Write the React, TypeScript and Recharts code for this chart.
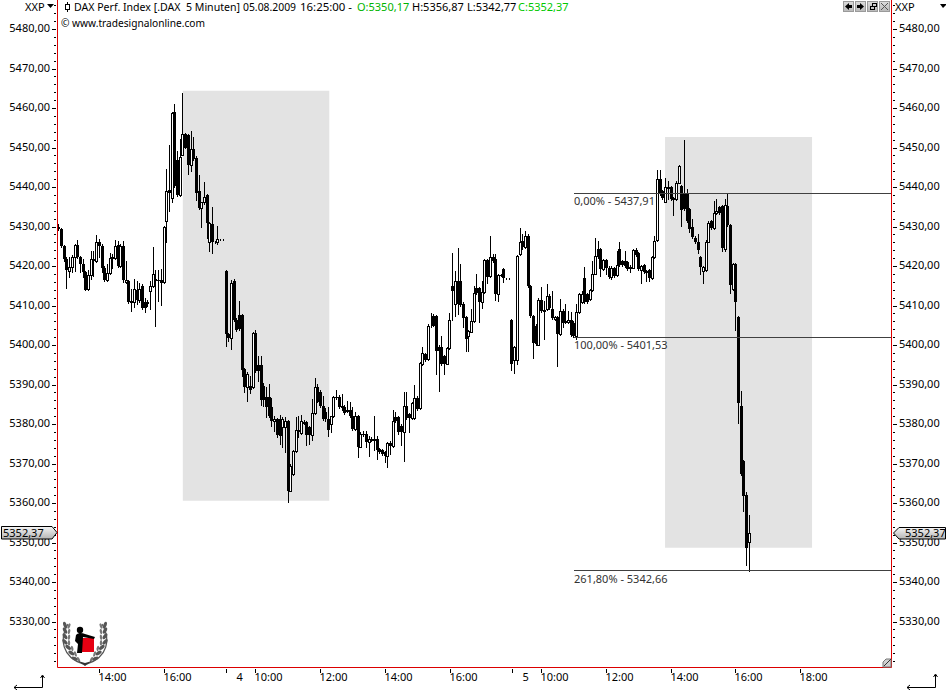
import React from "react";
import { ComposedChart, Bar, XAxis, YAxis, ReferenceArea, ReferenceLine } from "recharts";

type Ohlc = [number, number, number, number];

// open, high, low, close of each 5-minute bar
const day3Bars: Ohlc[] = [
[5429.9,5430.6,5429.2,5429.3],[5429.3,5429.6,5424.9,5425.1],[5425.1,5425.4,5421.3,5421.8],[5421.8,5422.2,5414.4,5419],[5418.8,5422.2,5417.1,5419.8],
[5419.8,5422.8,5418.4,5422.4],[5422.4,5425.6,5418.8,5425.3],[5425.3,5426.6,5422,5422.2],[5422.2,5422.6,5418.4,5420.5],[5420.5,5421.8,5417.1,5418.4],
[5418.4,5418.8,5413.9,5413.9],[5414.2,5419,5414,5417.7],[5417.7,5423.9,5416.7,5421.9],[5421.9,5423.9,5417.5,5421.2],[5421.2,5427.9,5421,5426],
[5426,5426.8,5422.2,5425],[5425,5425.5,5418.4,5419.6],[5419.6,5420,5416.3,5416.4],[5416.4,5420.6,5416.2,5418.2],[5418.2,5423.2,5418,5422],
[5422,5423,5419.6,5422.2],[5422,5426.6,5421.8,5425],[5425.3,5426.4,5419.8,5420],[5420,5425.5,5419.8,5425],[5425,5426.4,5416,5416.4],
[5416,5421.3,5415.8,5416.4],[5416.2,5416.5,5410.6,5410.8],[5410.8,5414.2,5408.7,5411.2],[5410.8,5416.7,5409.7,5414.2],[5413.9,5416.3,5410.4,5411.5],
[5411.5,5415.6,5411,5414.2],[5414.9,5415.4,5409,5409.3],[5410.8,5412,5408.3,5409.3],[5410.6,5411.5,5409.8,5410.8],[5413.6,5416.3,5409.1,5414.9],
[5414.9,5424.9,5414.6,5418.1],[5416.7,5419,5404.9,5416.3],[5416.5,5419,5411.2,5416.1],[5416.5,5419.2,5410.2,5415.7],[5416,5430.2,5415.8,5429.9],
[5431.4,5444.5,5426.2,5439],[5439.3,5450.6,5434,5438.6],[5437.2,5458.9,5436.1,5458.7],[5459,5461,5440,5440.3],[5446.8,5449,5437.8,5438],
[5438,5452.1,5437.8,5447.5],[5448.1,5463.8,5448,5453.4],[5453.4,5453.8,5449.8,5450],[5453.1,5453.4,5443.4,5445.5],[5445.5,5454.2,5444.1,5449.6],
[5449.6,5452.7,5446.8,5447],[5447.3,5447.8,5436.8,5438.4],[5438.9,5443.1,5434.4,5434.6],[5434.8,5436.3,5430,5436.1],[5436.1,5441.3,5435.8,5437.6],
[5437.9,5438.2,5427.2,5430.9],[5426,5431.2,5423.9,5430.9],[5430.6,5435,5423.4,5426],[5426,5426.3,5425.8,5426],[5426,5430.2,5425.6,5426.8],
[5426.8,5426.9,5426.7,5426.8],[5426.8,5426.9,5426.7,5426.8],
];

const day4Bars: Ohlc[] = [
[5418.8,5419.1,5399.8,5402.8],[5402.8,5403,5401.1,5401.9],[5401.9,5416.5,5399,5415.7],[5416.3,5416.6,5406,5406.3],[5406.3,5406.8,5403.6,5403.9],
[5407.6,5411.2,5403.8,5404],[5407.6,5407.9,5392.2,5393.7],[5393.9,5394.3,5388.2,5389.3],[5389.4,5393.2,5385.9,5392.6],[5389.7,5392.2,5387.8,5388.6],
[5389.3,5403.2,5389,5403],[5403,5403.8,5393.2,5393.5],[5395,5397.3,5391,5393.3],[5395,5397.3,5384.9,5386.1],[5389.7,5390.5,5384.6,5386.1],
[5386.9,5389.3,5381.7,5384.2],[5386.9,5390.1,5381.7,5382.1],[5384.2,5386.7,5379.4,5380.7],[5380.7,5382.1,5378.3,5381.3],[5381.3,5381.6,5376.6,5377.2],
[5381.3,5382.4,5374.9,5377],[5379.2,5381.7,5374.1,5381.3],[5379.2,5381.7,5372.8,5380.7],[5380.7,5381,5360.2,5363.1],[5363.1,5369.8,5363,5369.5],
[5367.4,5373.4,5367.2,5373.1],[5373.1,5381.7,5372.9,5378.5],[5378.5,5382.1,5376.6,5377.9],[5377.7,5382.4,5377.5,5380.7],[5380.2,5380.9,5380,5380.5],
[5380.5,5380.8,5374.8,5377.2],[5379.2,5379.6,5374.9,5377.2],[5377.2,5386.3,5376,5382.8],[5382.8,5391.6,5382.6,5389.3],[5389.3,5390.1,5385.5,5385.7],
[5388,5388.5,5384.4,5384.6],[5384.6,5387.2,5381,5381.3],[5383,5384,5380.8,5381.3],[5381.3,5384.2,5377,5378.5],[5380,5382.1,5377.9,5382.1],
[5382.1,5387.2,5381.9,5386.9],[5386.9,5388.6,5386.4,5386.7],[5386.9,5387.4,5384,5384.2],[5384.5,5387.6,5383.6,5384],[5384.4,5384.8,5382.5,5382.7],
[5383.2,5385.9,5383,5383.5],[5383.5,5385.5,5381.9,5382.1],[5382.1,5384.2,5378.5,5378.7],[5378.7,5383,5378.5,5382.1],[5382.1,5382.4,5371.6,5374.3],
[5374.3,5377.9,5374.1,5377.6],[5377.6,5378.3,5377,5377.3],[5377.5,5378.3,5374.1,5375.4],[5375.4,5377,5372,5376.2],[5376,5376.6,5375.8,5376.2],
[5376.2,5382.1,5373.3,5375.8],[5376.2,5377,5371.2,5373.5],[5373.7,5374,5372.6,5372.8],[5373.3,5373.6,5372.2,5372.4],[5372.8,5373.1,5370.3,5371.8],
[5371.8,5375.5,5369,5375.3],[5375.3,5375.6,5372.4,5374.4],[5374.4,5383.6,5374.2,5380.8],[5381.8,5383,5380.4,5380.7],[5381.8,5382,5377.5,5378.1],
[5379.6,5380,5374.7,5378.1],[5378.1,5388,5370.6,5384.6],[5384.6,5388,5381.2,5381.4],[5382.5,5382.9,5377.9,5381.4],[5381.4,5385.6,5381.2,5385.3],
[5381.4,5389.9,5381.2,5386.7],[5386.7,5387,5383.6,5383.8],[5384,5395.8,5383.8,5395.5],[5395.2,5399.6,5395,5398],[5397.7,5398,5396,5396.2],
[5396.4,5405.2,5396.2,5404.9],[5404.7,5408.2,5404.5,5404.9],[5407.4,5407.8,5404.7,5404.9],[5407.4,5407.7,5392.6,5398.5],[5399.6,5400,5388.4,5398.4],
[5399.6,5402.3,5395,5395.3],[5397.3,5397.6,5392.7,5395.3],[5395.3,5399.6,5395.1,5399.2],[5399.2,5408,5399,5406.3],[5415,5423.3,5406.3,5413.6],
[5410.4,5418.8,5407.4,5416.3],[5416.3,5424.5,5407.8,5410.4],[5416.3,5420.6,5410,5410.2],[5410.4,5410.8,5404.6,5406.8],[5407,5407.3,5398.4,5401.5],
[5402.3,5403.8,5398.6,5403.6],[5403.4,5409.1,5403.2,5406],[5406,5415,5405.8,5413.1],[5414.4,5418,5412.9,5413.1],[5414.4,5414.8,5405.9,5410.8],
[5410.8,5416.3,5409.3,5413.3],[5413.3,5421.8,5413.1,5421.5],[5421.5,5421.8,5415.8,5417.1],[5417.5,5427.6,5417.3,5422.3],[5422.3,5423,5421.1,5421.3],
[5421.7,5423,5411.4,5412.9],[5412.9,5418,5411.2,5417.8],[5417.8,5418,5417.6,5417.7],[5419.2,5419.4,5416,5416.9],[5416.9,5417,5416.8,5416.9],
[5416.9,5417,5416.8,5416.9],
];

const day5Bars: Ohlc[] = [
[5406.4,5406.6,5393.7,5395.3],[5396.2,5399.8,5393,5399.6],[5396.2,5422.8,5395.2,5422.6],[5423,5429.6,5422.8,5426],[5426.4,5428.1,5424.4,5424.7],
[5424.7,5428.9,5424.5,5427.6],[5427.6,5428.1,5414.8,5415],[5415,5415.3,5407,5407.4],[5407.4,5407.7,5396.6,5400.4],[5404.9,5405.2,5400,5400.2],
[5400.1,5411.8,5399.9,5411.5],[5411.5,5414.8,5408.3,5408.5],[5408.5,5411.2,5401.5,5408.8],[5409.1,5415.4,5408.9,5412.5],[5412.5,5412.8,5409.1,5409.3],
[5409.1,5413.7,5406.6,5406.8],[5406.6,5407.3,5406.4,5407],[5407,5407.3,5394.6,5402.8],[5402.8,5411.6,5402.6,5408.7],[5408.7,5409,5404.5,5405.7],
[5405.9,5410.4,5405.6,5406.1],[5405.9,5408.7,5405.6,5406.3],[5406.3,5408.3,5402.4,5402.6],[5405.7,5406,5402.1,5402.3],[5402.3,5410.4,5401.5,5408.3],
[5408.3,5413.1,5408.1,5412.9],[5410.8,5413.7,5410.6,5412.9],[5416.9,5419.8,5410.6,5410.8],[5412.9,5413.2,5410.6,5410.8],[5411.6,5414.2,5411.4,5413.9],
[5413.9,5421.3,5413.7,5418.1],[5418.1,5427.2,5417.9,5422.6],[5424.3,5426.4,5422.1,5422.3],[5424.3,5424.6,5417.5,5419.2],[5419.2,5421.8,5419,5421.5],
[5421.5,5421.8,5418,5419.6],[5419.6,5420,5416.9,5417.1],[5417.1,5420,5416.7,5419.6],[5419.5,5419.8,5417.3,5417.5],[5417.8,5423.8,5417.5,5420.2],
[5424.3,5426,5420,5420.2],[5421.3,5421.6,5420,5420.2],[5421.3,5423.9,5419.8,5420],[5420.9,5421.2,5419,5419.2],[5419.5,5420.2,5418.4,5419.8],
[5419.6,5424.3,5419.4,5424],[5424,5424.5,5422.6,5422.8],[5423.2,5423.5,5419,5419.2],[5419,5420.3,5415.6,5420],[5420.2,5420.5,5418.2,5418.4],
[5418.4,5419,5416.3,5418.8],[5419,5419.3,5416.2,5416.9],[5416.9,5422.5,5416.7,5422.2],[5422.2,5427.6,5422,5426.4],[5426.6,5444.3,5426.4,5442],
[5442,5444.3,5438,5438.2],[5439,5439.3,5436.9,5437.1],[5436.3,5442.4,5436.1,5439.9],[5439.7,5441.6,5436.9,5439.9],[5439.9,5440.2,5436.7,5436.9],
[5436.9,5437.6,5433,5437.3],[5436.9,5441.4,5436.7,5441.1],[5441.1,5445.6,5440.9,5445.3],[5440.3,5440.6,5430.2,5434.1],[5438.6,5451.9,5434.2,5434.4],
[5438.6,5439.4,5431.2,5431.4],[5434.4,5434.7,5428.5,5429.5],[5429.9,5431.9,5427.2,5427.4],[5427.2,5427.5,5425.8,5426],[5426,5428.1,5423.4,5424],
[5422.3,5422.6,5418,5419.8],[5418.8,5420,5415.8,5419.8],[5419,5426.5,5418.8,5426.2],[5426.2,5431.4,5426,5431],[5431.3,5431.6,5429.4,5429.6],
[5429.6,5436.5,5429.4,5433.5],[5433.4,5436.9,5433.2,5433.9],[5435,5435.3,5433.2,5433.5],[5435.2,5435.5,5423.9,5424.5],[5424.3,5436.9,5423.7,5435.4],
[5435.1,5438.4,5430.1,5430.3],[5430.3,5430.6,5413.1,5415.3],[5414.2,5420.8,5414,5420.5],[5420.5,5420.8,5403.8,5410.8],[5407.1,5407.3,5380.2,5385.2],
[5384.6,5388.3,5367.2,5367.4],[5370.7,5371,5357.9,5361.9],[5362.1,5362.7,5344.4,5348.5],[5350.17,5356.87,5342.77,5352.37],
];

const xTickBars = [15, 39, 62, 73, 97, 121, 145, 168, 179, 203, 227, 251, 275];
const xTickLabels = ["14:00", "16:00", "4", "10:00", "12:00", "14:00", "16:00", "5", "10:00", "12:00", "14:00", "16:00", "18:00"];

const yMajorTicks = [5480, 5470, 5460, 5450, 5440, 5430, 5420, 5410, 5400, 5390, 5380, 5370, 5360, 5350, 5340, 5330];
const yMinorTicks = [5486, 5484, 5482, 5478, 5476, 5474, 5472, 5468, 5466, 5464, 5462, 5458, 5456, 5454, 5452, 5448, 5446, 5444, 5442, 5438, 5436, 5434, 5432, 5428, 5426, 5424, 5422, 5418, 5416, 5414, 5412, 5408, 5406, 5404, 5402, 5398, 5396, 5394, 5392, 5388, 5386, 5384, 5382, 5378, 5376, 5374, 5372, 5368, 5366, 5364, 5362, 5358, 5356, 5354, 5352, 5348, 5346, 5344, 5342, 5338, 5336, 5334, 5332, 5328, 5326, 5324, 5322, 5320];

const fibLevels = [5438.4, 5402, 5342.9];
const fibLabels = ["0,00% - 5437,91", "100,00% - 5401,53", "261,80% - 5342,66"];
const fibStartBar = 191.1;

const shadedBars: [number, number][] = [[46.1, 100.4], [224.9, 279.4]];
const shadedPrices: [number, number][] = [[5360.6, 5464.35], [5348.7, 5452.65]];

const xDomain: [number, number] = [-0.37, 308.86];
const yDomain: [number, number] = [5318.36, 5487.35];
const FONT = "'Noto Sans', sans-serif";
const RED = "#dc0000";

const allBars = [...day3Bars, ...day4Bars, ...day5Bars];
const rows = allBars.map(([open, high, low, close], bar) => ({ bar, open, high, low, close }));

const fmtPrice = (v: number) => v.toFixed(2).replace(".", ",");

function Candle(props: any) {
  const { x, y, width, height, payload } = props;
  if (!payload) return null;
  const { open, high, low, close } = payload;
  const perUnit = height / (high - low);
  const yOf = (v: number) => y + (high - v) * perUnit;
  const cx = Math.round(x + width / 2) + 0.5;
  const top = Math.round(yOf(Math.max(open, close)));
  const bot = Math.round(yOf(Math.min(open, close)));
  const up = close >= open;
  return (
    <g shapeRendering="crispEdges">
      <line x1={cx} x2={cx} y1={Math.round(y)} y2={Math.round(y + height) + 1} stroke="#000" />
      {up ? (
        <rect x={cx - 1} y={top + 0.5} width={2} height={Math.max(bot - top, 0)} fill="#fff" stroke="#000" />
      ) : (
        <rect x={cx - 1.5} y={top} width={3} height={Math.max(bot - top, 1)} fill="#000" />
      )}
    </g>
  );
}

function LeftTick(props: any) {
  const { y, payload } = props;
  const major = yMajorTicks.includes(payload.value);
  const yy = Math.round(y) + 0.5;
  return (
    <g>
      <line x1={major ? 52 : 54} x2={56} y1={yy} y2={yy} stroke="#000" shapeRendering="crispEdges" />
      {major ? <text x={50} y={y + 3} textAnchor="end" fontFamily={FONT} fontSize={11} fill="#000">{fmtPrice(payload.value)}</text> : null}
    </g>
  );
}

function RightTick(props: any) {
  const { y, payload } = props;
  const major = yMajorTicks.includes(payload.value);
  const yy = Math.round(y) + 0.5;
  return (
    <g>
      <line x1={893} x2={major ? 897 : 895} y1={yy} y2={yy} stroke="#000" shapeRendering="crispEdges" />
      {major ? <text x={899} y={y + 3} fontFamily={FONT} fontSize={11} fill="#000">{fmtPrice(payload.value)}</text> : null}
    </g>
  );
}

function TimeTick(props: any) {
  const { x, payload } = props;
  const label = xTickLabels[xTickBars.indexOf(payload.value)];
  const xx = Math.round(x) + 0.5;
  const isDay = label.length === 1;
  return (
    <g>
      <line x1={xx} x2={xx} y1={669} y2={673} stroke="#000" shapeRendering="crispEdges" />
      <text x={isDay ? xx + 10 : xx - 1} y={681} fontFamily={FONT} fontSize={11} fill="#000">{label}</text>
    </g>
  );
}

function FibLabel(text: string) {
  return (props: any) => {
    const vb = props.viewBox;
    return <text x={574} y={vb.y + 12} fontFamily={FONT} fontSize={11} fill="#333">{text}</text>;
  };
}

const leaves = [0, 1, 2, 3, 4, 5, 6];

function Decorations() {
  const bt = { fontFamily: FONT, fontSize: 11, fill: "#000" } as const;
  return (
    <svg width={946} height={690} style={{ position: "absolute", left: 0, top: 0, pointerEvents: "none" }}>
      <defs>
        <linearGradient id="tag" x1="0" y1="0" x2="0" y2="1">
          <stop offset="0" stopColor="#f6f6f6" />
          <stop offset="1" stopColor="#b4b4b4" />
        </linearGradient>
        <linearGradient id="btn" x1="0" y1="0" x2="0" y2="1">
          <stop offset="0" stopColor="#dcdcdc" />
          <stop offset="1" stopColor="#b8b8b8" />
        </linearGradient>
      </defs>
      <text x={25} y={11} {...bt}>XXP</text>
      <path d="M47 4h7l-3.5 4z" fill="#000" />
      <g shapeRendering="crispEdges">
        <line x1={67.5} x2={67.5} y1={2} y2={12} stroke="#000" />
        <rect x={65.5} y={4.5} width={4} height={5} fill="#fff" stroke="#000" />
      </g>
      <text x={74} y={11} {...bt} xmlSpace="preserve" textLength={166} lengthAdjust="spacingAndGlyphs">DAX Perf. Index [.DAX  5 Minuten]</text>
      <text x={243} y={11} {...bt} textLength={53} lengthAdjust="spacingAndGlyphs">05.08.2009</text>
      <text x={300} y={11} {...bt} textLength={52} lengthAdjust="spacingAndGlyphs">16:25:00 -</text>
      <text x={357} y={11} {...bt} fill="#00b400">O:5350,17</text>
      <text x={412} y={11} {...bt}>H:5356,87</text>
      <text x={467} y={11} {...bt}>L:5342,77</text>
      <text x={518} y={11} {...bt} fill="#00c800">C:5352,37</text>
      <text x={61} y={27} {...bt} textLength={144} lengthAdjust="spacingAndGlyphs">© www.tradesignalonline.com</text>

      <g shapeRendering="crispEdges">
        {[843, 855, 867, 879].map((bx) => (
          <rect key={bx} x={bx + 0.5} y={1.5} width={10} height={10} fill="url(#btn)" stroke="#9a9a9a" />
        ))}
        <rect x={870.5} y={6.5} width={4} height={3} fill="none" stroke="#000" />
        <rect x={872.5} y={3.5} width={4} height={3} fill="none" stroke="#000" />
      </g>
      <path d="M845 6.5l4-3.5v2h3v3h-3v2z" fill="#000" />
      <path d="M864 6.5l-4-3.5v2h-3v3h3v2z" fill="#000" />
      <path d="M881 3l7 7M888 3l-7 7" stroke="#555" fill="none" />
      <text x={895} y={11} {...bt}>XXP</text>
      <path d="M940 4h6v1l-3 3z" fill="#000" />

      <path d="M1.5 526.5H52l5 6-5 6.5H1.5z" fill="url(#tag)" stroke="#000" />
      <text x={3} y={537} {...bt}>5352,37</text>
      <path d="M945.5 527.5H899l-5.5 5.5 5.5 6h46.5z" fill="url(#tag)" stroke="#000" />
      <text x={905} y={537} {...bt}>5352,37</text>

      <g stroke="#000" fill="none">
        <path d="M14 687.5H42.5V676" />
        <path d="M17 685l-3 2.5 3 2.5M40.5 678l2-3 2 3" />
        <path d="M907 687.5H935.5V675" />
        <path d="M910 685l-3 2.5 3 2.5M933.5 677l2-3 2 3" />
      </g>

      <path d="M883 667v-5l3-3h5v8z" fill="#d0d0d0" stroke="#777" />
      <path d="M884 666l7-7" stroke="#333" />

      <g>
        <path d="M68 624c-9 15 -6 33 15 40" stroke="#555" strokeWidth={1.2} fill="none" />
        <path d="M102 624c9 15 6 33 -15 40" stroke="#555" strokeWidth={1.2} fill="none" />
        {leaves.map((n) => {
          const lx = 65 + (n < 4 ? 0 : (n - 3) * 3.2);
          const rx = 105 - (n < 4 ? 0 : (n - 3) * 3.2);
          const ly = 625 + n * 5.6;
          return (
            <g key={n}>
              <ellipse cx={lx} cy={ly} rx={1.7} ry={3.4} fill="#555" transform={`rotate(${-18 - n * 8} ${lx} ${ly})`} />
              <ellipse cx={rx} cy={ly} rx={1.7} ry={3.4} fill="#555" transform={`rotate(${18 + n * 8} ${rx} ${ly})`} />
              <ellipse cx={lx + 4} cy={ly + 1} rx={1.2} ry={2.8} fill="#777" transform={`rotate(${22 - n * 8} ${lx + 4} ${ly + 1})`} />
              <ellipse cx={rx - 4} cy={ly + 1} rx={1.2} ry={2.8} fill="#777" transform={`rotate(${-22 + n * 8} ${rx - 4} ${ly + 1})`} />
            </g>
          );
        })}
        <path d="M78 661l7 2 7-2-7 5z" fill="#333" />
        <rect x={82} y={638} width={12} height={14} fill="#e60012" />
        <circle cx={80} cy={630} r={3.2} fill="#000" />
        <path d="M76 635c3-3 6-2 9-1l10 3-1 2-11-2-1 16h-5l1-9-3-3z" fill="#000" />
      </g>
    </svg>
  );
}

export default function App() {
  return (
    <div style={{ position: "absolute", left: 0, top: 0, width: 946, height: 690, background: "#fff", overflow: "hidden" }}>
      <ComposedChart
        width={946}
        height={690}
        data={rows}
        margin={{ top: 0, right: 0, bottom: 0, left: 0 }}
        barCategoryGap={0}
      >
        <XAxis
          dataKey="bar"
          type="number"
          domain={xDomain}
          allowDataOverflow
          ticks={xTickBars}
          interval={0}
          height={22.5}
          axisLine={{ stroke: RED }}
          tickLine={false}
          tickSize={0}
          tick={<TimeTick />}
        />
        <YAxis
          yAxisId="left"
          orientation="left"
          type="number"
          width={57.5}
          domain={yDomain}
          allowDataOverflow
          ticks={[...yMajorTicks, ...yMinorTicks]}
          interval={0}
          axisLine={{ stroke: RED }}
          tickLine={false}
          tickSize={0}
          tick={<LeftTick />}
        />
        <YAxis
          yAxisId="right"
          orientation="right"
          type="number"
          width={54.5}
          domain={yDomain}
          allowDataOverflow
          ticks={[...yMajorTicks, ...yMinorTicks]}
          interval={0}
          axisLine={{ stroke: RED }}
          tickLine={false}
          tickSize={0}
          tick={<RightTick />}
        />
        {shadedBars.map(([x1, x2], k) => (
          <ReferenceArea key={k} yAxisId="left" x1={x1} x2={x2} y1={shadedPrices[k][0]} y2={shadedPrices[k][1]} fill="#e3e3e3" fillOpacity={1} stroke="none" />
        ))}
        <Bar yAxisId="left" dataKey={(d: any) => [d.low, d.high]} barSize={3} shape={<Candle />} isAnimationActive={false} />
        {fibLevels.map((level, k) => (
          <ReferenceLine
            key={k}
            yAxisId="left"
            segment={[{ x: fibStartBar, y: level }, { x: xDomain[1], y: level }]}
            stroke="#404040"
            shapeRendering="crispEdges"
            label={FibLabel(fibLabels[k])}
          />
        ))}
      </ComposedChart>
      <Decorations />
    </div>
  );
}
